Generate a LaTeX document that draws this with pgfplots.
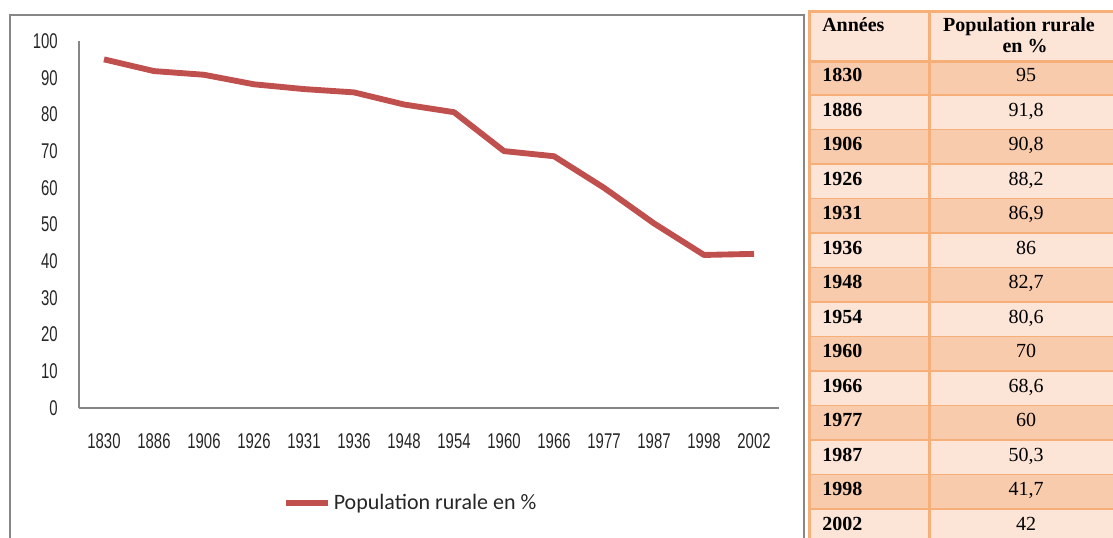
\documentclass[border=0pt]{standalone}
\usepackage{pgfplots}
\pgfplotsset{compat=1.18}
\usepackage{fontspec}
\setmainfont{Liberation Serif}
\newfontfamily\chartfont[FakeStretch=0.70]{Liberation Sans}
\newfontfamily\legfont{Carlito}
\definecolor{linered}{HTML}{C0504D}
\definecolor{axgray}{HTML}{868686}
\definecolor{tborder}{HTML}{F6AF78}
\definecolor{tlight}{HTML}{FCE4D6}
\definecolor{tdark}{HTML}{F8CBAD}

\pgfplotstableread{
idx year val
0 1830 95
1 1886 91.8
2 1906 90.8
3 1926 88.2
4 1931 86.9
5 1936 86
6 1948 82.7
7 1954 80.6
8 1960 70
9 1966 68.6
10 1977 60
11 1987 50.3
12 1998 41.7
13 2002 42
}\ruraldata

\begin{document}
\begin{tikzpicture}[x=0.75pt,y=0.75pt]
\useasboundingbox (0,0) rectangle (1113,537);
\clip (0,0) rectangle (1113,537);
% chart frame
\draw[axgray, line width=1.5pt] (10,-5) -- (10,522) -- (804,522) -- (804,-5);

\begin{axis}[
  at={(59.25pt,96.75pt)}, anchor=south west,
  scale only axis, width=525pt, height=275.25pt,
  xmin=-0.5, xmax=13.5, ymin=0, ymax=100,
  axis x line=bottom, axis y line=left,
  axis line style={axgray, line width=1.2pt, -},
  xtick={0,...,13},
  xticklabels={1830,1886,1906,1926,1931,1936,1948,1954,1960,1966,1977,1987,1998,2002},
  ytick={0,10,...,100},
  major tick length=0pt,
  tick label style={font=\chartfont\fontsize{16}{18}\selectfont, text=black!85, inner sep=0pt},
  xticklabel style={anchor=center, yshift=-25pt},
  yticklabel style={anchor=east, xshift=-15.75pt},
  /pgf/number format/assume math mode=true,
  clip=false,
  legend style={at={(axis description cs:0.2914,-0.2589)}, anchor=west, draw=none, fill=none,
    inner sep=0pt, font=\legfont\fontsize{16.5}{18}\selectfont, text=black!85},
  legend cell align=left,
  legend image code/.code={\draw[#1, line width=4.4pt] (0pt,0pt) -- (31.5pt,0pt);},
]
\addplot[linered, line width=4.4pt, line join=round] table[x=idx, y=val] {\ruraldata};
\addlegendentry{Population rurale en \%}
\end{axis}

% table
\fill[tlight] (809,525) rectangle (1116,476);
\foreach \yr/\val [count=\i from 0] in {1830/95, 1886/{91,8}, 1906/{90,8}, 1926/{88,2}, 1931/{86,9}, 1936/86, 1948/{82,7}, 1954/{80,6}, 1960/70, 1966/{68,6}, 1977/60, 1987/{50,3}, 1998/{41,7}, 2002/42}{
  \pgfmathsetmacro\rtop{476-\i*34.5}
  \pgfmathsetmacro\rbot{\rtop-34.5}
  \pgfmathsetmacro\rbase{\rtop-20.8}
  \ifodd\i
    \fill[tlight] (809,\rtop) rectangle (1116,\rbot);
  \else
    \fill[tdark] (809,\rtop) rectangle (1116,\rbot);
  \fi
  \draw[tborder, line width=2.25pt] (809,\rbot) -- (1116,\rbot);
  \node[anchor=base west, inner sep=0pt, font=\fontsize{15}{17}\selectfont\bfseries] at (822,\rbase) {\yr};
  \node[anchor=base, inner sep=0pt, font=\fontsize{15}{17}\selectfont] at (1026,\rbase) {\val};
}
\draw[tborder, line width=2.25pt] (809,476) -- (1116,476);
\draw[tborder, line width=2.25pt] (1116,525) -- (809,525) -- (809,-5);
\draw[tborder, line width=2.25pt] (929,525) -- (929,-5);
\node[anchor=base west, inner sep=0pt, font=\fontsize{15}{17}\selectfont\bfseries] at (822,505) {Années};
\node[anchor=base, inner sep=0pt, font=\fontsize{15}{17}\selectfont\bfseries] at (1019,505) {Population rurale};
\node[anchor=base, inner sep=0pt, font=\fontsize{15}{17}\selectfont\bfseries] at (1025,484.3) {en \%};
\end{tikzpicture}
\end{document}
